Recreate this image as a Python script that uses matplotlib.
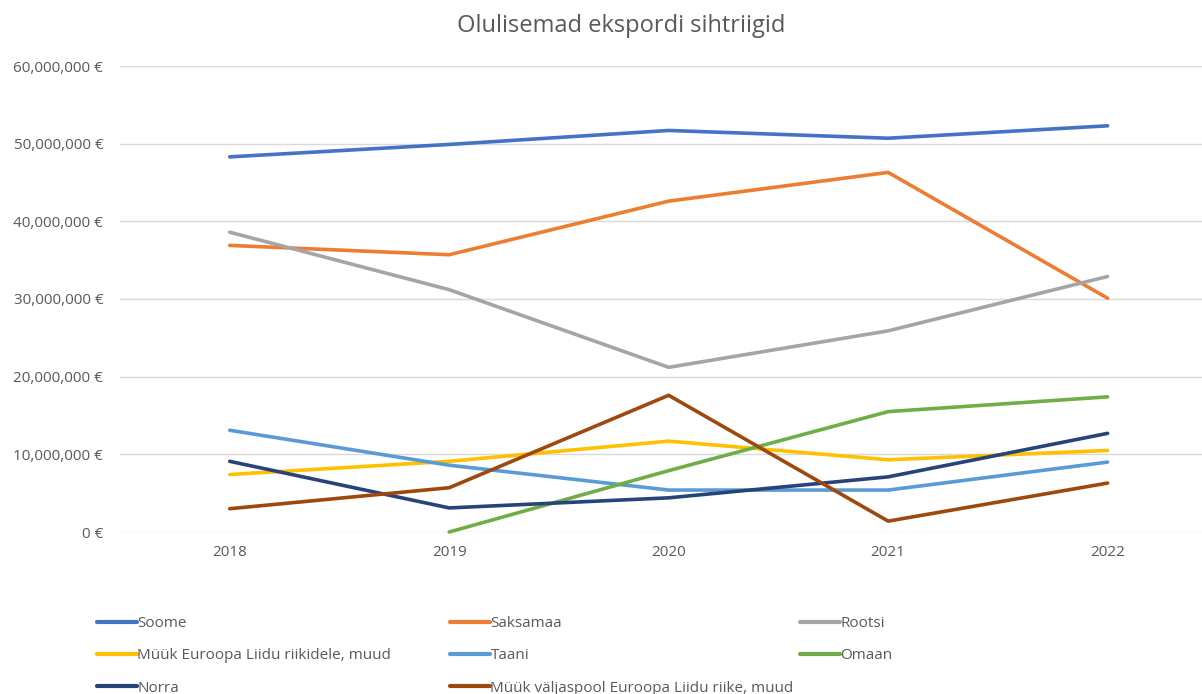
import matplotlib.pyplot as plt
import numpy as np

plt.rcParams['font.family'] = ['Open Sans', 'DejaVu Sans']

aastad = ['2018', '2019', '2020', '2021', '2022']

soome = [48.3, 49.9, 51.7, 50.7, 52.3]
saksamaa = [36.9, 35.7, 42.6, 46.3, 30.1]
rootsi = [38.6, 31.2, 21.2, 25.9, 32.9]
muuk_el = [7.4, 9.1, 11.7, 9.3, 10.5]
taani = [13.1, 8.6, 5.4, 5.4, 9.0]
omaan = [np.nan, 0.0, 7.9, 15.5, 17.4]
norra = [9.1, 3.1, 4.4, 7.1, 12.7]
muuk_valjas = [3.0, 5.7, 17.6, 1.4, 6.3]

seeriad = [
    ('Soome', soome, '#4472C4'),
    ('Saksamaa', saksamaa, '#ED7D31'),
    ('Rootsi', rootsi, '#A5A5A5'),
    ('Müük Euroopa Liidu riikidele, muud', muuk_el, '#FFC000'),
    ('Taani', taani, '#5B9BD5'),
    ('Omaan', omaan, '#70AD47'),
    ('Norra', norra, '#264478'),
    ('Müük väljaspool Euroopa Liidu riike, muud', muuk_valjas, '#9E480E'),
]

tekst = '#595959'

fig = plt.figure(figsize=(12.02, 6.94), dpi=100)
ax = fig.add_axes([120 / 1202, 1 - 532 / 694, 1 - 120 / 1202, (532 - 66) / 694])

x = np.arange(len(aastad))
jooned = {}
for nimi, vaartused, varv in seeriad:
    (joon,) = ax.plot(x, np.array(vaartused) * 1e6, color=varv, linewidth=2.6,
                      solid_capstyle='round', label=nimi, clip_on=False)
    jooned[nimi] = joon

ax.set_xlim(-0.5, 4.43)
ax.set_ylim(0, 60e6)
ax.set_yticks(np.arange(0, 60e6 + 1, 10e6))
ax.yaxis.set_major_formatter(lambda v, p: f'{v:,.0f} €')
ax.set_xticks(x)
ax.set_xticklabels(aastad)
ax.grid(axis='y', color='#D9D9D9', linewidth=1)
ax.set_axisbelow(True)
for s in ax.spines.values():
    s.set_visible(False)
ax.tick_params(axis='both', length=0, labelsize=11, labelcolor=tekst)
ax.tick_params(axis='y', pad=12)
ax.tick_params(axis='x', pad=9)

fig.text(0.517, 0.962, 'Olulisemad ekspordi sihtriigid', ha='center', va='center',
         fontsize=17, color=tekst)

veerud = [
    (['Soome', 'Müük Euroopa Liidu riikidele, muud', 'Norra'], 97),
    (['Saksamaa', 'Taani', 'Müük väljaspool Euroopa Liidu riike, muud'], 450),
    (['Rootsi', 'Omaan'], 800),
]
for nimed, vasak in veerud:
    leg = fig.legend([jooned[n] for n in nimed], nimed, loc='upper left',
                     bbox_to_anchor=(vasak / 1202, 1 - 616 / 694), frameon=False,
                     fontsize=11, handlelength=2.6, handletextpad=0.05,
                     labelspacing=1.13, borderaxespad=0, borderpad=0)
    for t in leg.get_texts():
        t.set_color(tekst)
    for h in leg.legend_handles:
        h.set_linewidth(3)

fig.savefig('out.png', dpi=100)
